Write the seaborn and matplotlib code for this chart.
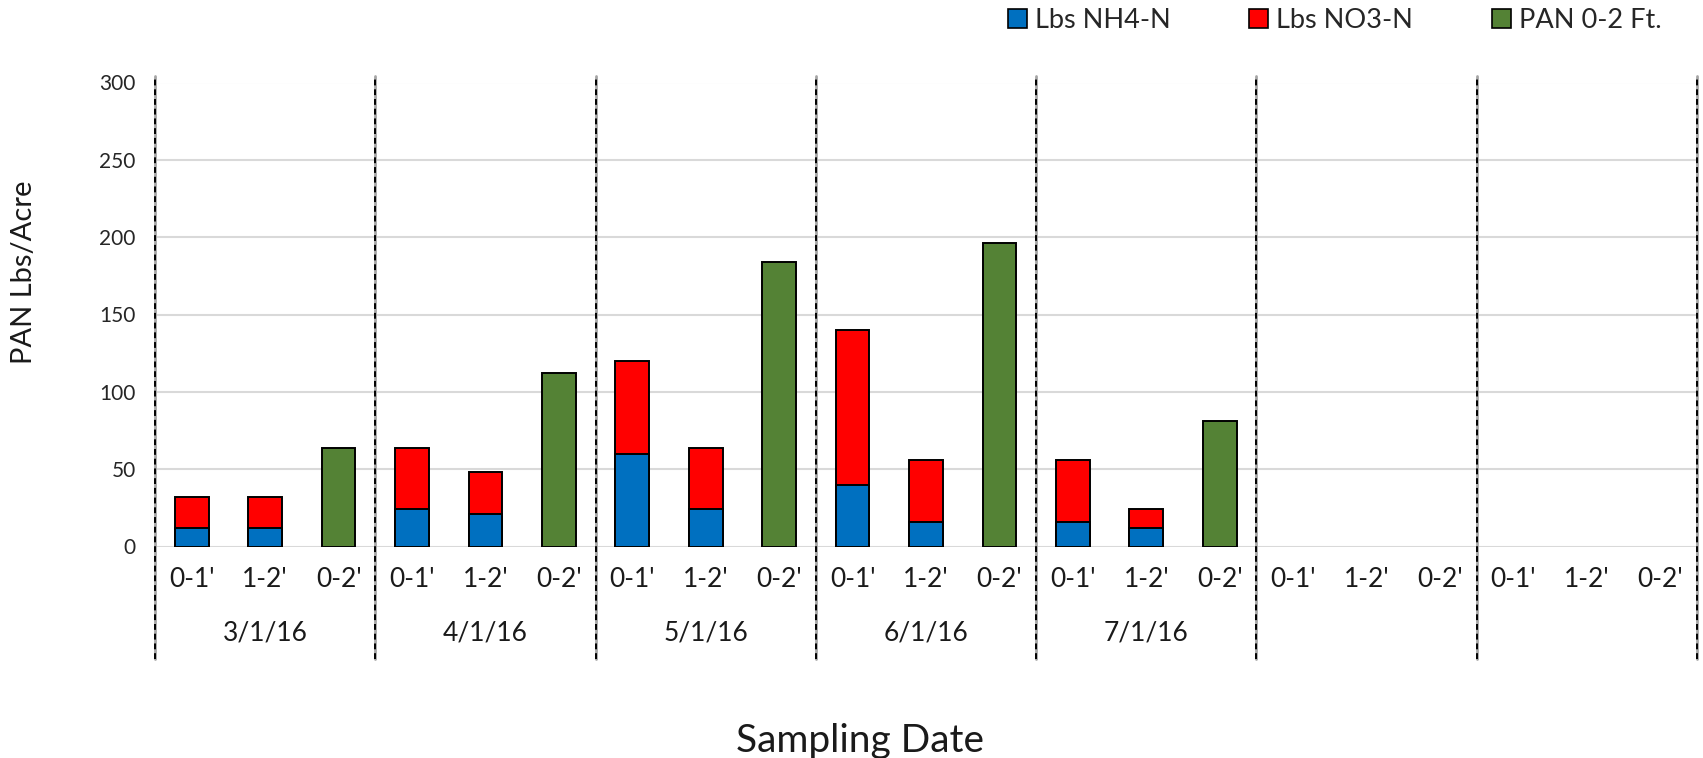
import numpy as np
import pandas as pd
import matplotlib
matplotlib.use("Agg")
import matplotlib.pyplot as plt
import seaborn as sns
from matplotlib.patches import Patch
from matplotlib.lines import Line2D
from matplotlib.transforms import blended_transform_factory

# Sampling dates (last two not yet sampled) and depth intervals per date
dates = ["3/1/16", "4/1/16", "5/1/16", "6/1/16", "7/1/16", "", ""]
depths = ["0-1'", "1-2'", "0-2'"]

# Lbs/acre per layer
nh4_0_1 = [12, 24, 60, 40, 16]
no3_0_1 = [20, 40, 60, 100, 40]
nh4_1_2 = [12, 21, 24, 16, 12]
no3_1_2 = [20, 27, 40, 40, 12]
pan_0_2 = [64, 112, 184, 196, 81]

series_labels = ["Lbs NH4-N", "Lbs NO3-N", "PAN 0-2 Ft."]
colors = ["#0070C0", "#FF0000", "#548235"]
yticks = [0, 50, 100, 150, 200, 250, 300]

rows = []
for g, date in enumerate(dates):
    measured = g < len(pan_0_2)
    for d, depth in enumerate(depths):
        nh4 = no3 = pan = np.nan
        if measured:
            if d == 0:
                nh4, no3 = nh4_0_1[g], no3_0_1[g]
            elif d == 1:
                nh4, no3 = nh4_1_2[g], no3_1_2[g]
            else:
                pan = pan_0_2[g]
        rows.append(dict(slot=g * 3 + d, date=date, depth=depth,
                         nh4=nh4, no3=no3, pan=pan))
df = pd.DataFrame(rows)
df["layer_total"] = df["nh4"] + df["no3"]

sns.set_theme(style="white")
plt.rcParams["font.family"] = ["Lato", "DejaVu Sans"]

fig = plt.figure(figsize=(17.03, 7.58), dpi=100)
ax = fig.add_axes([155 / 1703, 1 - 546.5 / 758, (1697 - 155) / 1703, (546.5 - 82.5) / 758])

order = list(df["slot"])
bar_kw = dict(order=order, width=0.46, edgecolor="black", linewidth=1.4,
              ax=ax, errorbar=None, saturation=1)
# stacked layers: NO3 on top of NH4 (draw total first, NH4 over it)
sns.barplot(data=df, x="slot", y="layer_total", color=colors[1], **bar_kw)
sns.barplot(data=df, x="slot", y="nh4", color=colors[0], **bar_kw)
sns.barplot(data=df, x="slot", y="pan", color=colors[2], **bar_kw)

n_slots = len(df)
ax.set_xlim(-0.5, n_slots - 0.5)
ax.set_ylim(0, 300)
ax.set_yticks(yticks)
ax.set_xticks(range(n_slots))
ax.set_xticklabels(df["depth"])
ax.tick_params(axis="x", length=0, pad=15, labelsize=19, labelcolor="#1a1a1a")
ax.tick_params(axis="y", length=0, pad=14, labelsize=15, labelcolor="#262626")
ax.yaxis.grid(True, color="#d9d9d9", linewidth=1.5)
ax.set_axisbelow(True)
for s in ax.spines.values():
    s.set_visible(False)
ax.set_xlabel("")
ax.set_ylabel("")

# dashed separators between sampling dates, running through the label area
blend = blended_transform_factory(ax.transData, fig.transFigure)
for b in np.arange(-0.5, n_slots, 3):
    ax.add_line(Line2D([b, b], [0.131, 0.9], transform=blend, color="#a6a6a6",
                       linewidth=2.0, clip_on=False, zorder=3))
    ax.add_line(Line2D([b, b], [0.131, 0.9], transform=blend, color="black",
                       linewidth=1.4, linestyle=(0, (3, 2)), clip_on=False, zorder=4))

# date labels under each group
for g, date in enumerate(dates):
    ax.text(g * 3 + 1, 1 - 633 / 758, date, transform=blend, ha="center",
            va="center", fontsize=19, color="#1a1a1a")

fig.text(24 / 1703, 1 - 272 / 758, "PAN Lbs/Acre", rotation=90, ha="center",
         va="center", fontsize=21, color="#1a1a1a")
fig.text(860 / 1703, 1 - 741 / 758, "Sampling Date", ha="center", va="center",
         fontsize=28, color="#1a1a1a")

handles = [Patch(facecolor=c, edgecolor="black", linewidth=1.2) for c in colors]
fig.legend(handles, series_labels, loc="center left",
           bbox_to_anchor=(1008 / 1703, 1 - 20 / 758), ncol=3, frameon=False,
           fontsize=19.5, handlelength=0.7, handleheight=0.7, handletextpad=0.3,
           columnspacing=2.9, borderaxespad=0, borderpad=0)

fig.savefig("out.png", dpi=100)
